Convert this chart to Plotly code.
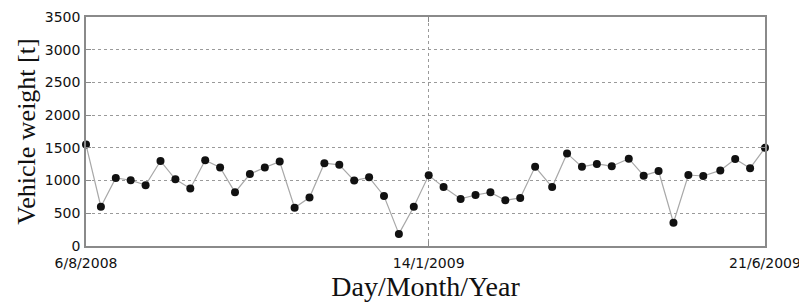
import plotly.graph_objects as go

dates = ["2008-08-06", "2008-08-13", "2008-08-20", "2008-08-27", "2008-09-03", "2008-09-10",
         "2008-09-17", "2008-09-24", "2008-10-01", "2008-10-08", "2008-10-15", "2008-10-22",
         "2008-10-29", "2008-11-05", "2008-11-12", "2008-11-19", "2008-11-26", "2008-12-03",
         "2008-12-10", "2008-12-17", "2008-12-24", "2008-12-31", "2009-01-07", "2009-01-14",
         "2009-01-21", "2009-01-29", "2009-02-05", "2009-02-12", "2009-02-19", "2009-02-26",
         "2009-03-05", "2009-03-13", "2009-03-20", "2009-03-27", "2009-04-03", "2009-04-10",
         "2009-04-18", "2009-04-25", "2009-05-02", "2009-05-09", "2009-05-16", "2009-05-23",
         "2009-05-31", "2009-06-07", "2009-06-14", "2009-06-21"]
weight = [1550, 600, 1040, 1005, 930, 1300, 1020, 880, 1310, 1200, 820, 1100,
          1200, 1290, 585, 740, 1265, 1240, 1000, 1050, 765, 185, 600, 1080,
          900, 720, 780, 820, 700, 735, 1210, 900, 1415, 1210, 1255, 1220,
          1335, 1075, 1145, 355, 1085, 1070, 1155, 1330, 1190, 1500]

x_tickvals = ["2008-08-06", "2009-01-14", "2009-06-21"]
x_ticktext = ["6/8/2008", "14/1/2009", "21/6/2009"]
y_tickvals = [0, 500, 1000, 1500, 2000, 2500, 3000, 3500]

fig = go.Figure()
fig.add_trace(go.Scatter(
    x=dates, y=weight, mode="lines+markers",
    line=dict(color="#a8a8a8", width=1.2),
    marker=dict(color="#111111", size=8),
    cliponaxis=False, showlegend=False,
))

axis_common = dict(
    showline=True, linecolor="#8a8a8a", linewidth=1.5, mirror="ticks",
    ticks="inside", ticklen=5, tickcolor="#8a8a8a",
    showgrid=True, gridcolor="#9a9a9a", griddash="dot", gridwidth=1,
    zeroline=False, automargin=False,
    tickfont=dict(family="DejaVu Sans, Arial", size=14, color="#111111"),
)

fig.update_xaxes(
    type="date", range=["2008-08-06", "2009-06-21"],
    tickmode="array", tickvals=x_tickvals, ticktext=x_ticktext,
    ticklabelstandoff=3,
    title=dict(text="Day/Month/Year", font=dict(family="Liberation Serif, Times New Roman", size=28, color="#111111"), standoff=0),
    **axis_common,
)
fig.update_yaxes(
    range=[0, 3500], tickmode="array", tickvals=y_tickvals,
    ticklabelstandoff=1,
    title=dict(text="Vehicle weight [t]", font=dict(family="Liberation Serif, Times New Roman", size=26, color="#111111"), standoff=2),
    **axis_common,
)

# the page body has an 8px margin, so the figure is sized/offset to compensate
fig.update_layout(
    width=799, height=294,
    margin=dict(l=78, r=42, t=9, b=56),
    paper_bgcolor="white", plot_bgcolor="white",
)

fig.write_html("out.html")
